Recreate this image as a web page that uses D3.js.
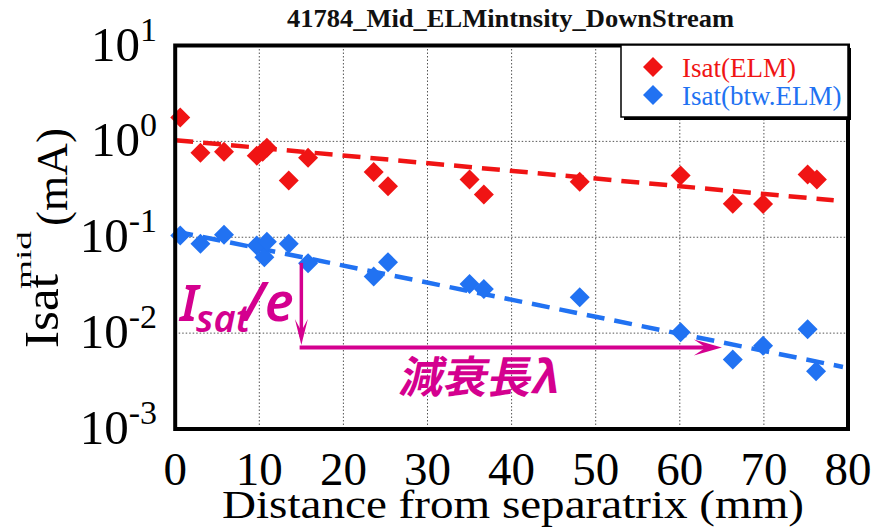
<!DOCTYPE html>
<html>
<head>
<meta charset="utf-8">
<script src="https://cdn.jsdelivr.net/npm/d3@7"></script>
<style>
  html, body { margin: 0; padding: 0; background: #fff; }
  svg { display: block; }
  .serif { font-family: "Liberation Serif", "Times New Roman", serif; }
  .sans { font-family: "Noto Sans", "DejaVu Sans", sans-serif; }
  .cjk { font-family: "Noto Sans CJK JP", sans-serif; }
</style>
</head>
<body>
<svg id="chart" width="872" height="528"></svg>
<script>
// ---------- data ----------
const chartTitle = "41784_Mid_ELMintnsity_DownStream";
const xTicks = [0, 10, 20, 30, 40, 50, 60, 70, 80];
const yTickExps = [1, 0, -1, -2, -3];

const elmX = [0.6, 3.0, 5.8, 9.7, 10.4, 10.9, 13.5, 15.8, 23.6, 25.3, 35.0, 36.7, 48.1, 60.1, 66.3, 69.9, 75.2, 76.3];
const elmY = [1.77, 0.76, 0.78, 0.71, 0.78, 0.86, 0.39, 0.675, 0.48, 0.34, 0.40, 0.28, 0.38, 0.44, 0.224, 0.222, 0.45, 0.40];

const btwX = [0.6, 3.0, 5.8, 9.7, 10.6, 10.9, 13.5, 15.8, 23.6, 25.3, 35.0, 36.7, 48.1, 60.1, 66.3, 69.9, 75.2, 76.2];
const btwY = [0.104, 0.0855, 0.106, 0.082, 0.062, 0.090, 0.0855, 0.0537, 0.039, 0.055, 0.0326, 0.0289, 0.0236, 0.0102, 0.0053, 0.0074, 0.011, 0.0040];

// fitted exponential decay lines (end points)
const elmFitX = [0, 78.3];
const elmFitY = [1.03, 0.243];
const btwFitX = [0, 79.4];
const btwFitY = [0.115, 0.00444];

// annotation (data units)
const annVertX = 15.0;
const annVertY = [0.054, 0.0075];
const annHorzX = [15.0, 65.0];
const annHorzY = 0.0071;

const legendLabels = ["Isat(ELM)", "Isat(btw.ELM)"];

// ---------- drawing ----------
const svg = d3.select("#chart");
const L = 175.2, R = 848, T = 45.5, B = 429;
const x = d3.scaleLinear().domain([0, 80]).range([L, R]);
const y = d3.scaleLog().domain([1e-3, 1e1]).range([B, T]);

const RED = "#f01414", BLUE = "#2172f2", MAG = "#d4008f";

// gridlines
const grid = svg.append("g");
grid.selectAll("line.vx").data(xTicks.filter(d => d > 0 && d < 80)).join("line")
  .attr("x1", d => x(d)).attr("x2", d => x(d)).attr("y1", T).attr("y2", B)
  .attr("stroke", "#555").attr("stroke-width", 1).attr("stroke-dasharray", "1.5,2");
grid.selectAll("line.hy").data(yTickExps.filter(e => e < 1 && e > -3)).join("line")
  .attr("x1", L).attr("x2", R).attr("y1", e => y(Math.pow(10, e))).attr("y2", e => y(Math.pow(10, e)))
  .attr("stroke", "#555").attr("stroke-width", 1).attr("stroke-dasharray", "1.5,2");

// fit lines
const line = d3.line().x(d => x(d[0])).y(d => y(d[1]));
svg.append("path").datum(d3.zip(elmFitX, elmFitY)).attr("d", line)
  .attr("fill", "none").attr("stroke", RED).attr("stroke-width", 4.5).attr("stroke-dasharray", "18,10");
svg.append("path").datum(d3.zip(btwFitX, btwFitY)).attr("d", line)
  .attr("fill", "none").attr("stroke", BLUE).attr("stroke-width", 4.5).attr("stroke-dasharray", "18,10");

// markers
const diamond = d3.symbol().type(d3.symbolSquare).size(200);
function drawPts(xs, ys, col) {
  svg.append("g").selectAll("path").data(d3.zip(xs, ys)).join("path")
    .attr("d", diamond)
    .attr("transform", d => `translate(${x(d[0])},${y(d[1])}) rotate(45)`)
    .attr("fill", col);
}
drawPts(elmX, elmY, RED);
drawPts(btwX, btwY, BLUE);

// annotation arrows
const ann = svg.append("g");
const vx = x(annVertX), vy0 = y(annVertY[0]), vy1 = y(annVertY[1]);
ann.append("line").attr("x1", vx).attr("x2", vx).attr("y1", vy0).attr("y2", vy1 - 8)
  .attr("stroke", MAG).attr("stroke-width", 3.5);
ann.append("path")
  .attr("d", `M${vx},${vy1} L${vx - 6.5},${vy1 - 26} L${vx},${vy1 - 14} L${vx + 6.5},${vy1 - 26} Z`)
  .attr("fill", MAG);
const hy = y(annHorzY), hx0 = x(annHorzX[0]), hx1 = x(annHorzX[1]);
ann.append("line").attr("x1", hx0 - 1.75).attr("x2", hx1 - 10).attr("y1", hy).attr("y2", hy)
  .attr("stroke", MAG).attr("stroke-width", 4);
ann.append("path")
  .attr("d", `M${hx1},${hy} L${hx1 - 28},${hy - 8} L${hx1 - 16},${hy} L${hx1 - 28},${hy + 8} Z`)
  .attr("fill", MAG);

// annotation text Isat/e
const annTxt = ann.append("text").attr("class", "sans").attr("x", 180).attr("y", 321)
  .style("font-style", "italic").style("font-weight", "600").style("font-size", "50px")
  .attr("fill", MAG);
annTxt.append("tspan").text("I");
annTxt.append("tspan").style("font-size", "38px").attr("dy", 11).attr("dx", -2).text("sat");
annTxt.append("tspan").attr("dy", -11).attr("dx", -7).style("font-size", "54px").text("/e");

// 減衰長λ
ann.append("text").attr("class", "cjk").attr("transform", "translate(398,393) skewX(-12)")
  .style("font-weight", "700").style("font-size", "44px").attr("fill", MAG).text("減衰長λ");

// frame
svg.append("rect").attr("x", L).attr("y", T).attr("width", R - L).attr("height", B - T)
  .attr("fill", "none").attr("stroke", "#000").attr("stroke-width", 4);

// x tick labels
svg.append("g").selectAll("text").data(xTicks).join("text").attr("class", "serif")
  .attr("x", d => x(d)).attr("y", 485).attr("text-anchor", "middle")
  .style("font-size", "47px").attr("fill", "#000").text(d => d);

// y tick labels
const yl = svg.append("g").selectAll("text").data(yTickExps).join("text").attr("class", "serif")
  .attr("x", 157).attr("y", e => y(Math.pow(10, e)) + 15).attr("text-anchor", "end")
  .style("font-size", "49px").attr("fill", "#000");
yl.append("tspan").text("10");
yl.append("tspan").style("font-size", "34px").attr("dy", -20).text(e => String(e));

// x axis title
svg.append("text").attr("class", "serif").attr("x", 222).attr("y", 518)
  .style("font-size", "40px").attr("fill", "#000")
  .attr("textLength", 582).attr("lengthAdjust", "spacingAndGlyphs")
  .text("Distance from separatrix (mm)");

// y axis title (rotated pieces)
function rotText(bx, by, txt, fs, len) {
  svg.append("text").attr("class", "serif").attr("transform", `translate(${bx},${by}) rotate(-90)`)
    .style("font-size", fs + "px").attr("fill", "#000")
    .attr("textLength", len).attr("lengthAdjust", "spacingAndGlyphs").text(txt);
}
rotText(58, 348, "Isat", 48, 74);
rotText(31, 289, "mid", 22, 58);
rotText(67, 226, "(mA)", 45, 98);

// title
svg.append("text").attr("class", "serif").attr("x", 287).attr("y", 27)
  .style("font-weight", "bold").style("font-size", "25px")
  .attr("textLength", 447).attr("lengthAdjust", "spacingAndGlyphs")
  .attr("fill", "#111").text(chartTitle);

// legend
const lg = svg.append("g");
lg.append("rect").attr("x", 624).attr("y", 48).attr("width", 227).attr("height", 72).attr("fill", "#000");
lg.append("rect").attr("x", 621).attr("y", 45).attr("width", 227).attr("height", 72)
  .attr("fill", "#fff").attr("stroke", "#000").attr("stroke-width", 1.5);
const lgCols = [RED, BLUE];
legendLabels.forEach((lab, i) => {
  const cy = 67 + i * 28;
  lg.append("path").attr("d", diamond).attr("transform", `translate(653,${cy}) rotate(45)`).attr("fill", lgCols[i]);
  lg.append("text").attr("class", "serif").attr("x", 682).attr("y", cy + 10)
    .style("font-size", "27px").attr("fill", lgCols[i]).text(lab);
});
</script>
</body>
</html>
